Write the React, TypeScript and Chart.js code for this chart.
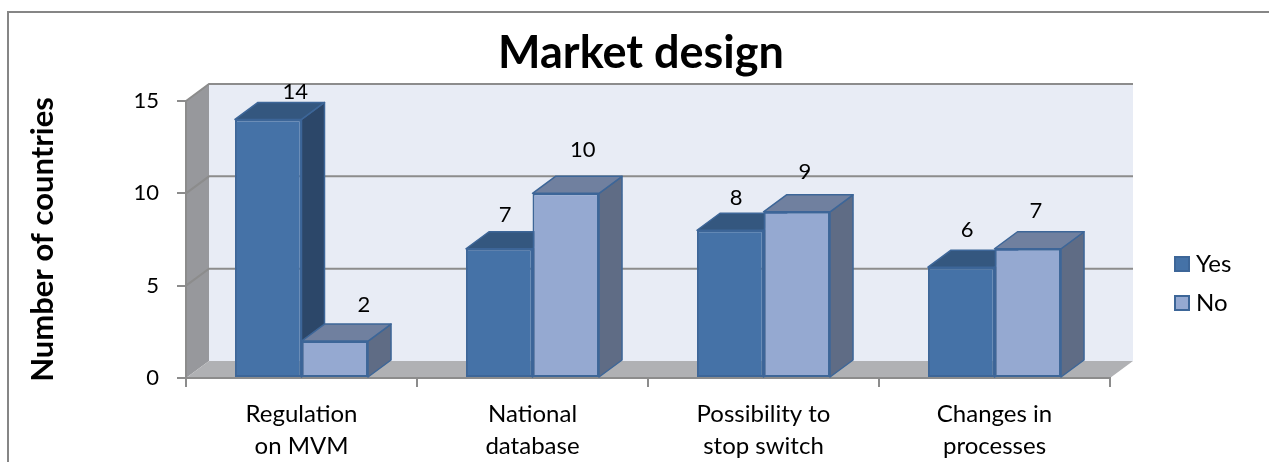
import React, { useEffect, useRef } from "react";
import { Chart, registerables } from "chart.js";

Chart.register(...registerables);

const categories = [
  ["Regulation", "on MVM"],
  ["National", "database"],
  ["Possibility to", "stop switch"],
  ["Changes in", "processes"],
];
const yesValues = [14, 7, 8, 6];
const noValues = [2, 10, 9, 7];
const yTicks = [0, 5, 10, 15];

const FONT = "Lato, 'Open Sans', sans-serif";
const DEPTH_X = 23;
const DEPTH_Y = 17;

const GRID = "#8c8c8c";
const BACK_WALL = "#e8ecf5";
const SIDE_WALL = "#97989c";
const FLOOR = "#b0b1b4";
const FRAME = "#868686";
const EDGE = "#3d6698";

// Shaded faces per series: front, top, side.
const yesFaces = { front: "#4572a7", top: "#34577f", side: "#2c4769" };
const noFaces = { front: "#95a9d1", top: "#70809f", side: "#5f6c85" };

// Where each value label sits relative to the front-top centre of its bar.
const labelOffsets = [
  [[27, -28], [6, -34], [6, -32], [6, -37]],
  [[29, -36], [17, -43], [8, -40], [8, -38]],
];

function polygon(ctx: CanvasRenderingContext2D, pts: number[][], fill: string, stroke?: string, width = 1) {
  ctx.beginPath();
  pts.forEach(([x, y], i) => (i ? ctx.lineTo(x, y) : ctx.moveTo(x, y)));
  ctx.closePath();
  ctx.fillStyle = fill;
  ctx.fill();
  if (stroke) {
    ctx.strokeStyle = stroke;
    ctx.lineWidth = width;
    ctx.stroke();
  }
}

// A small outlined square used as the legend marker of one series.
function swatch(fill: string) {
  const c = document.createElement("canvas");
  c.width = 16;
  c.height = 16;
  const g = c.getContext("2d")!;
  g.fillStyle = fill;
  g.fillRect(0, 0, 16, 16);
  g.strokeStyle = EDGE;
  g.lineWidth = 2;
  g.strokeRect(1, 1, 14, 14);
  return c;
}

// Frame, back wall, side wall, floor and the gridlines on them.
const roomPlugin = {
  id: "room",
  beforeDraw(chart: any) {
    const { ctx, chartArea: a, scales } = chart;
    const dx = DEPTH_X;
    const dy = DEPTH_Y;
    ctx.save();

    ctx.strokeStyle = FRAME;
    ctx.lineWidth = 2;
    ctx.beginPath();
    ctx.moveTo(8, 462);
    ctx.lineTo(8, 12);
    ctx.lineTo(1269, 12);
    ctx.stroke();

    ctx.fillStyle = BACK_WALL;
    ctx.fillRect(a.left + dx, a.top - dy, a.right - a.left, a.bottom - a.top);
    polygon(ctx, [[a.left, a.top], [a.left + dx, a.top - dy], [a.left + dx, a.bottom - dy], [a.left, a.bottom]], SIDE_WALL);
    polygon(ctx, [[a.left, a.bottom], [a.left + dx, a.bottom - dy], [a.right + dx, a.bottom - dy], [a.right, a.bottom]], FLOOR);

    ctx.strokeStyle = GRID;
    ctx.lineWidth = 2;
    ctx.beginPath();
    ctx.moveTo(a.left, a.top);
    ctx.lineTo(a.left + dx, a.top - dy);
    ctx.lineTo(a.right + dx, a.top - dy);
    yTicks.forEach((v) => {
      if (v === 0 || v === 15) return;
      const y = scales.y.getPixelForValue(v);
      ctx.moveTo(a.left, y);
      ctx.lineTo(a.left + dx, y - dy);
      ctx.lineTo(a.right + dx, y - dy);
    });
    ctx.stroke();
    ctx.restore();
  },
  // The legend sits beside the lower half of the plot; the title is centred on the frame.
  afterLayout(chart: any) {
    const legend = chart.legend;
    const pad = legend.options.labels.padding;
    legend.left = 1180 - pad;
    legend.right = 1269;
    legend.top = 252 - pad;
    legend.bottom = 440;
    chart.titleBlock.left = 13;
    chart.titleBlock.right = 1269;
  },
};

// Top and side faces of every bar; the front face is the library's own bar.
const depthPlugin = {
  id: "barDepth",
  beforeDatasetsDraw(chart: any) {
    const { ctx } = chart;
    const dx = DEPTH_X;
    const dy = DEPTH_Y;
    ctx.save();
    ctx.lineJoin = "round";
    [yesFaces, noFaces].forEach((faces, ds) => {
      chart.getDatasetMeta(ds).data.forEach((bar: any) => {
        const l = bar.x - bar.width / 2;
        const r = bar.x + bar.width / 2;
        const t = bar.y;
        const b = bar.base;
        polygon(ctx, [[r, t], [r + dx, t - dy], [r + dx, b - dy], [r, b]], faces.side, EDGE, 1.5);
        polygon(ctx, [[l, t], [l + dx, t - dy], [r + dx, t - dy], [r, t]], faces.top, EDGE, 1.5);
      });
    });
    ctx.restore();
  },
  afterDatasetsDraw(chart: any) {
    const { ctx } = chart;
    ctx.save();
    ctx.font = `22px ${FONT}`;
    ctx.fillStyle = "#000";
    ctx.textAlign = "center";
    ctx.textBaseline = "middle";
    [yesValues, noValues].forEach((values, ds) => {
      chart.getDatasetMeta(ds).data.forEach((bar: any, i: number) => {
        const [ox, oy] = labelOffsets[ds][i];
        ctx.fillText(String(values[i]), bar.x + ox, bar.y + oy);
      });
    });
    ctx.restore();
  },
};

export default function App() {
  const ref = useRef<HTMLCanvasElement>(null);

  useEffect(() => {
    const markers = [swatch(yesFaces.front), swatch(noFaces.front)];
    const chart = new Chart(ref.current!, {
      type: "bar",
      data: {
        labels: categories,
        datasets: [
          { label: "Yes", data: yesValues, backgroundColor: yesFaces.front, borderColor: EDGE, borderWidth: 2, borderSkipped: false },
          { label: "No", data: noValues, backgroundColor: noFaces.front, borderColor: EDGE, borderWidth: 2, borderSkipped: false },
        ],
      },
      options: {
        responsive: false,
        animation: false,
        layout: { autoPadding: false, padding: { left: 14, right: 159, top: 0, bottom: 0 } },
        datasets: { bar: { barPercentage: 1, categoryPercentage: 0.576 } },
        scales: {
          x: {
            afterFit: (s: any) => { s.height = 84; },
            grid: { drawOnChartArea: false, color: GRID, lineWidth: 2, tickLength: 9 },
            border: { color: GRID, width: 2 },
            ticks: {
              color: "#000",
              maxRotation: 0,
              autoSkip: false,
              padding: 11,
              font: { family: FONT, size: 24, lineHeight: 1.333 },
            },
          },
          y: {
            min: 0,
            max: 15,
            afterFit: (s: any) => { s.width = 172; },
            afterBuildTicks: (s: any) => { s.ticks = yTicks.map((value) => ({ value })); },
            grid: { drawOnChartArea: false, color: GRID, lineWidth: 2, tickLength: 9 },
            border: { color: GRID, width: 2 },
            ticks: { color: "#000", padding: 18, font: { family: FONT, size: 22 } },
            title: {
              display: true,
              text: "Number of countries",
              color: "#000",
              padding: { top: 10, bottom: 0 },
              font: { family: FONT, size: 31, weight: "bold" },
            },
          },
        },
        plugins: {
          title: {
            display: true,
            text: "Market design",
            color: "#000",
            padding: { top: 26, bottom: 21 },
            font: { family: FONT, size: 45, weight: "bold", lineHeight: 1.2 },
          },
          legend: {
            position: "chartArea",
            align: "start",
            labels: {
              color: "#000",
              usePointStyle: true,
              pointStyleWidth: 4,
              boxHeight: 16,
              padding: 15,
              font: { family: FONT, size: 24 },
              generateLabels: (c: any) =>
                Chart.defaults.plugins.legend.labels
                  .generateLabels(c)
                  .map((item: any, i: number) => ({ ...item, pointStyle: markers[i] })),
            },
          },
          tooltip: { enabled: false },
        },
      },
      plugins: [roomPlugin, depthPlugin],
    } as any);
    return () => chart.destroy();
  }, []);

  return (
    <div style={{ position: "fixed", left: 0, top: 0, width: 1269, height: 462, background: "#fff" }}>
      <canvas ref={ref} width={1269} height={462} style={{ display: "block" }} />
    </div>
  );
}
